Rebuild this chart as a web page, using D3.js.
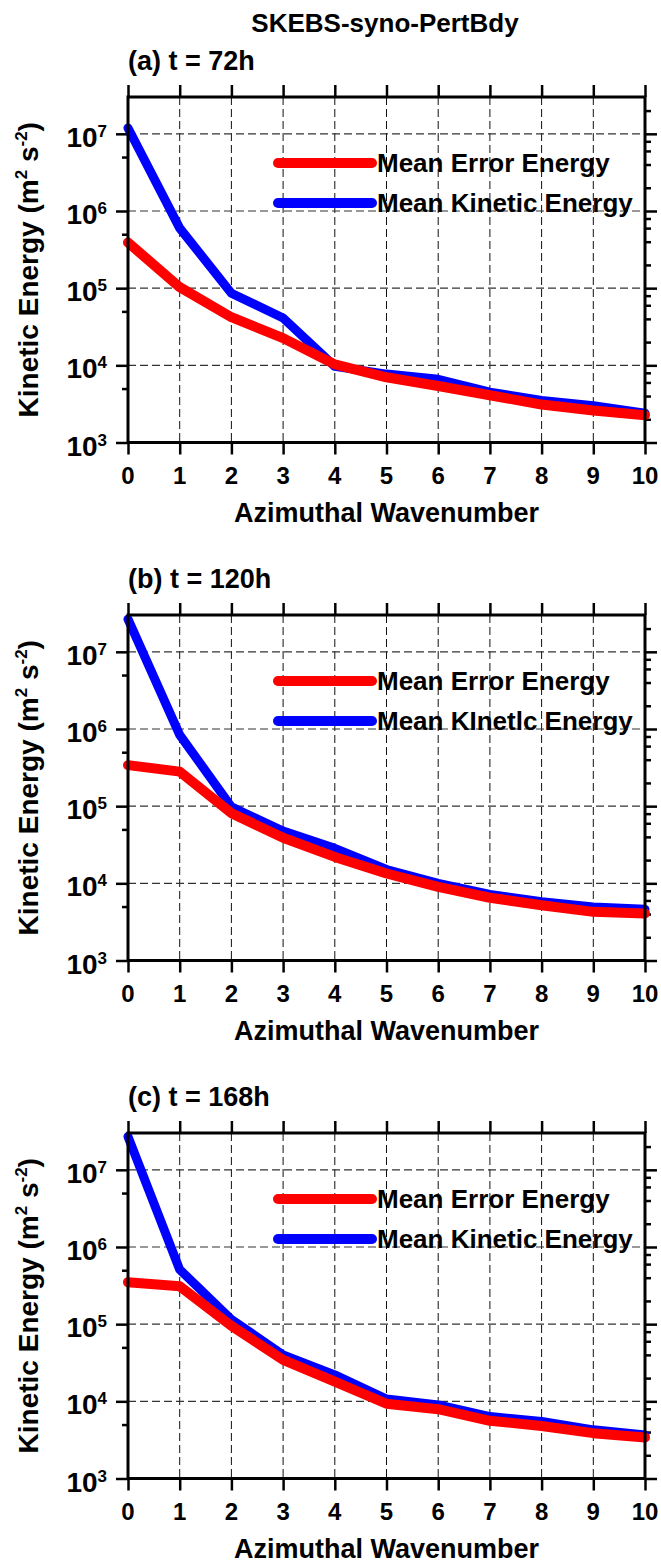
<!DOCTYPE html>
<html><head><meta charset="utf-8">
<script src="https://cdn.jsdelivr.net/npm/d3@7"></script>
<style>
html,body{margin:0;padding:0;background:#fff;}
text{font-family:"Liberation Sans",Arial,Helvetica,sans-serif;font-weight:bold;fill:#000;}
</style></head>
<body>
<svg id="chart" width="661" height="1567"></svg>
<script>
// ---- data ----
const wavenumbers = [0,1,2,3,4,5,6,7,8,9,10];
const titles = ["(a) t = 72h", "(b) t = 120h", "(c) t = 168h"];
const legendNames = [
  ["Mean Error Energy", "Mean Kinetic Energy"],
  ["Mean Error Energy", "Mean KInetlc Energy"],
  ["Mean Error Energy", "Mean Kinetic Energy"]
];
const err72  = [3.9e5, 1.03e5, 4.2e4, 2.25e4, 1.03e4, 7.0e3, 5.4e3, 4.1e3, 3.1e3, 2.6e3, 2.26e3];
const ke72   = [1.19e7, 6.0e5, 8.6e4, 4.1e4, 0.97e4, 7.7e3, 6.6e3, 4.5e3, 3.5e3, 3.0e3, 2.4e3];
const err120 = [3.4e5, 2.8e5, 8.1e4, 3.9e4, 2.2e4, 1.34e4, 9.0e3, 6.5e3, 5.2e3, 4.27e3, 4.07e3];
const ke120  = [2.65e7, 8.4e5, 9.8e4, 4.75e4, 2.84e4, 1.51e4, 1.0e4, 7.2e3, 5.76e3, 4.95e3, 4.6e3];
const err168 = [3.5e5, 3.1e5, 9.5e4, 3.45e4, 1.8e4, 9.3e3, 7.9e3, 5.6e3, 4.8e3, 3.87e3, 3.4e3];
const ke168  = [2.7e7, 5.1e5, 1.15e5, 4.0e4, 2.2e4, 1.07e4, 9.0e3, 6.35e3, 5.5e3, 4.27e3, 3.67e3];
const errSeries = [err72, err120, err168];
const keSeries  = [ke72, ke120, ke168];
const yMajor = [1e3, 1e4, 1e5, 1e6, 1e7];
const yExp   = ["3","4","5","6","7"];
const yMinorLeft  = [5e3, 5e4, 5e5, 5e6];
const yMinorRight = [2e3,4e3,6e3,8e3, 2e4,4e4,6e4,8e4, 2e5,4e5,6e5,8e5, 2e6,4e6,6e6,8e6, 2e7];
const yDomain = [1e3, 3e7];
const mainTitle = "SKEBS-syno-PertBdy";
const xTitle = "Azimuthal Wavenumber";

// ---- layout ----
const svg = d3.select("#chart");
const L = 128, R = 645, H = 345.5;
const tops = [97, 615, 1133];
const errColor = "#ff0000", keColor = "#0000ff";

svg.append("text").attr("x", 385).attr("y", 32).attr("text-anchor","middle")
  .style("font-size","26px").text(mainTitle);

const x = d3.scaleLinear().domain([0,10]).range([L,R]);

tops.forEach((top, p) => {
  const bottom = top + H;
  const y = d3.scaleLog().domain(yDomain).range([bottom, top]);
  const g = svg.append("g");

  // grid
  g.selectAll(".vg").data(wavenumbers.slice(1,10)).enter().append("line")
    .attr("x1", d=>x(d)).attr("x2", d=>x(d)).attr("y1", top).attr("y2", bottom)
    .attr("stroke","#111").attr("stroke-width",1).attr("stroke-dasharray","8,4");
  g.selectAll(".hg").data(yMajor.slice(1)).enter().append("line")
    .attr("x1", L).attr("x2", R).attr("y1", d=>y(d)).attr("y2", d=>y(d))
    .attr("stroke","#333").attr("stroke-width",1.2).attr("stroke-dasharray","8,4");

  // axes ticks
  const tickStyle = sel => { sel.select(".domain").remove(); sel.selectAll("line").attr("stroke","#000").attr("stroke-width",2.5); sel.selectAll("text").remove(); };
  g.append("g").attr("transform",`translate(${L},0)`)
    .call(d3.axisLeft(y).tickValues(yMajor).tickSize(12).tickFormat("")).call(tickStyle);
  g.append("g").attr("transform",`translate(${L},0)`)
    .call(d3.axisLeft(y).tickValues(yMinorLeft).tickSize(6).tickFormat("")).call(tickStyle);
  g.append("g").attr("transform",`translate(${R},0)`)
    .call(d3.axisRight(y).tickValues(yMajor).tickSize(12).tickFormat("")).call(tickStyle);
  g.append("g").attr("transform",`translate(${R},0)`)
    .call(d3.axisRight(y).tickValues(yMinorRight).tickSize(6).tickFormat("")).call(tickStyle);
  g.append("g").attr("transform",`translate(0,${top})`)
    .call(d3.axisTop(x).tickValues(wavenumbers).tickSize(12).tickFormat("")).call(tickStyle);
  g.append("g").attr("transform",`translate(0,${bottom})`)
    .call(d3.axisBottom(x).tickValues(wavenumbers).tickSize(12).tickFormat("")).call(tickStyle);

  // y tick labels
  yMajor.forEach((v,i) => {
    const t = g.append("text").attr("x", 107).attr("y", y(v)+13).attr("text-anchor","end")
      .style("font-size","28px");
    t.append("tspan").text("10");
    t.append("tspan").attr("dy",-10).style("font-size","17px").text(yExp[i]);
  });
  // x tick labels
  g.selectAll(".xl").data(wavenumbers).enter().append("text")
    .attr("x", d=>x(d)).attr("y", bottom+41).attr("text-anchor","middle")
    .style("font-size","24px").text(d=>d);

  // titles
  g.append("text").attr("x", L).attr("y", top-27).style("font-size","27px").text(titles[p]);
  g.append("text").attr("x", (L+R)/2).attr("y", bottom+79).attr("text-anchor","middle")
    .style("font-size","27px").text(xTitle);
  const cy = (top+bottom)/2;
  const yl = g.append("text").attr("transform",`translate(38,${cy}) rotate(-90)`)
    .attr("text-anchor","middle").style("font-size","28px");
  yl.append("tspan").text("Kinetic Energy (m");
  yl.append("tspan").attr("dy",-11).style("font-size","17px").text("2");
  yl.append("tspan").attr("dy",11).text(" s");
  yl.append("tspan").attr("dy",-11).style("font-size","17px").text("-2");
  yl.append("tspan").attr("dy",11).text(")");

  // series
  const line = d3.line().x((d,i)=>x(wavenumbers[i])).y(d=>y(d));
  g.append("path").datum(keSeries[p]).attr("d", line).attr("fill","none")
    .attr("stroke", keColor).attr("stroke-width",9).attr("stroke-linejoin","round").attr("stroke-linecap","round");
  g.append("path").datum(errSeries[p]).attr("d", line).attr("fill","none")
    .attr("stroke", errColor).attr("stroke-width",10).attr("stroke-linejoin","round").attr("stroke-linecap","round");

  // frame
  g.append("rect").attr("x",L).attr("y",top).attr("width",R-L).attr("height",H)
    .attr("fill","none").attr("stroke","#000").attr("stroke-width",3);

  // legend
  const legY = [top+66, top+106];
  const legCol = [errColor, keColor];
  legY.forEach((ly, k) => {
    g.append("line").attr("x1",278).attr("x2",372).attr("y1",ly).attr("y2",ly)
      .attr("stroke",legCol[k]).attr("stroke-width",10).attr("stroke-linecap","round");
    g.append("text").attr("x",377).attr("y",ly+9).style("font-size","26px").text(legendNames[p][k]);
  });
});
</script>
</body></html>
